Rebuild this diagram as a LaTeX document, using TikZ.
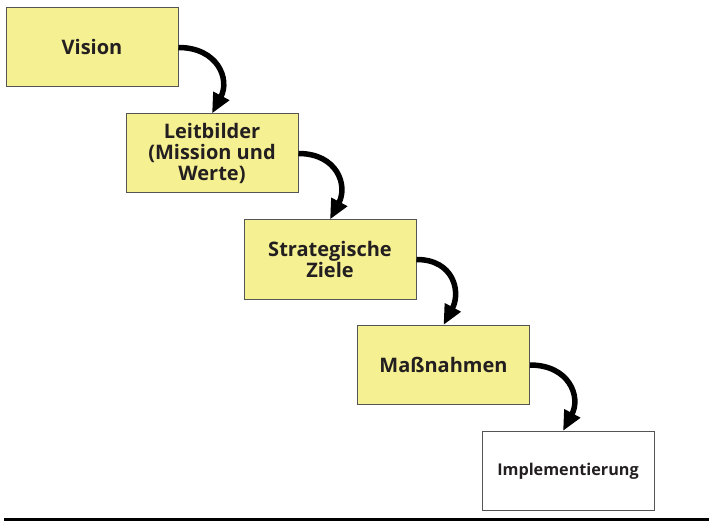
\documentclass[tikz,border=0pt]{standalone}
\usepackage{fontspec}
\setmainfont{Open Sans}
\usetikzlibrary{arrows.meta}
\definecolor{stufengelb}{RGB}{245,240,145}
\definecolor{rahmengrau}{RGB}{85,85,85}
\definecolor{schrift}{RGB}{35,31,32}

\begin{document}
\begin{tikzpicture}[x=1pt, y=-1pt,
    stufe/.style={draw=rahmengrau, line width=1pt, fill=stufengelb, minimum width=172pt, minimum height=79pt,
      align=center, text=schrift, font=\fontsize{20}{21}\selectfont\bfseries},
    pfeil/.style={line width=5.5pt, -{Triangle[length=20pt,width=17pt]}, out=0, in=62, looseness=1.35}]

  \useasboundingbox (0,0) rectangle (709,521);

  % Nodes
  \node[stufe] (vision) at (92,47.5) {Vision};
  \node[stufe] (leitbild) at (212,153.5) {Leitbilder\\(Mission und\\Werte)};
  \node[stufe] (ziele) at (330,259.5) {Strategische\\Ziele};
  \node[stufe] (massnahmen) at (443.5,365) {Maßnahmen};
  \node[stufe, fill=white, font=\fontsize{16.2}{19}\selectfont\bfseries] (impl) at (568,471) {Implementierung};

  % Curved arrows
  \draw[pfeil] (vision.east) to (leitbild.north);
  \draw[pfeil] (leitbild.east) to (ziele.north);
  \draw[pfeil] (ziele.east) to (massnahmen.north);
  \draw[pfeil] (massnahmen.east) to ([xshift=-5pt]impl.north);

  % Base line
  \draw[line width=3pt] (4,519.5) -- (709,519.5);

\end{tikzpicture}
\end{document}
